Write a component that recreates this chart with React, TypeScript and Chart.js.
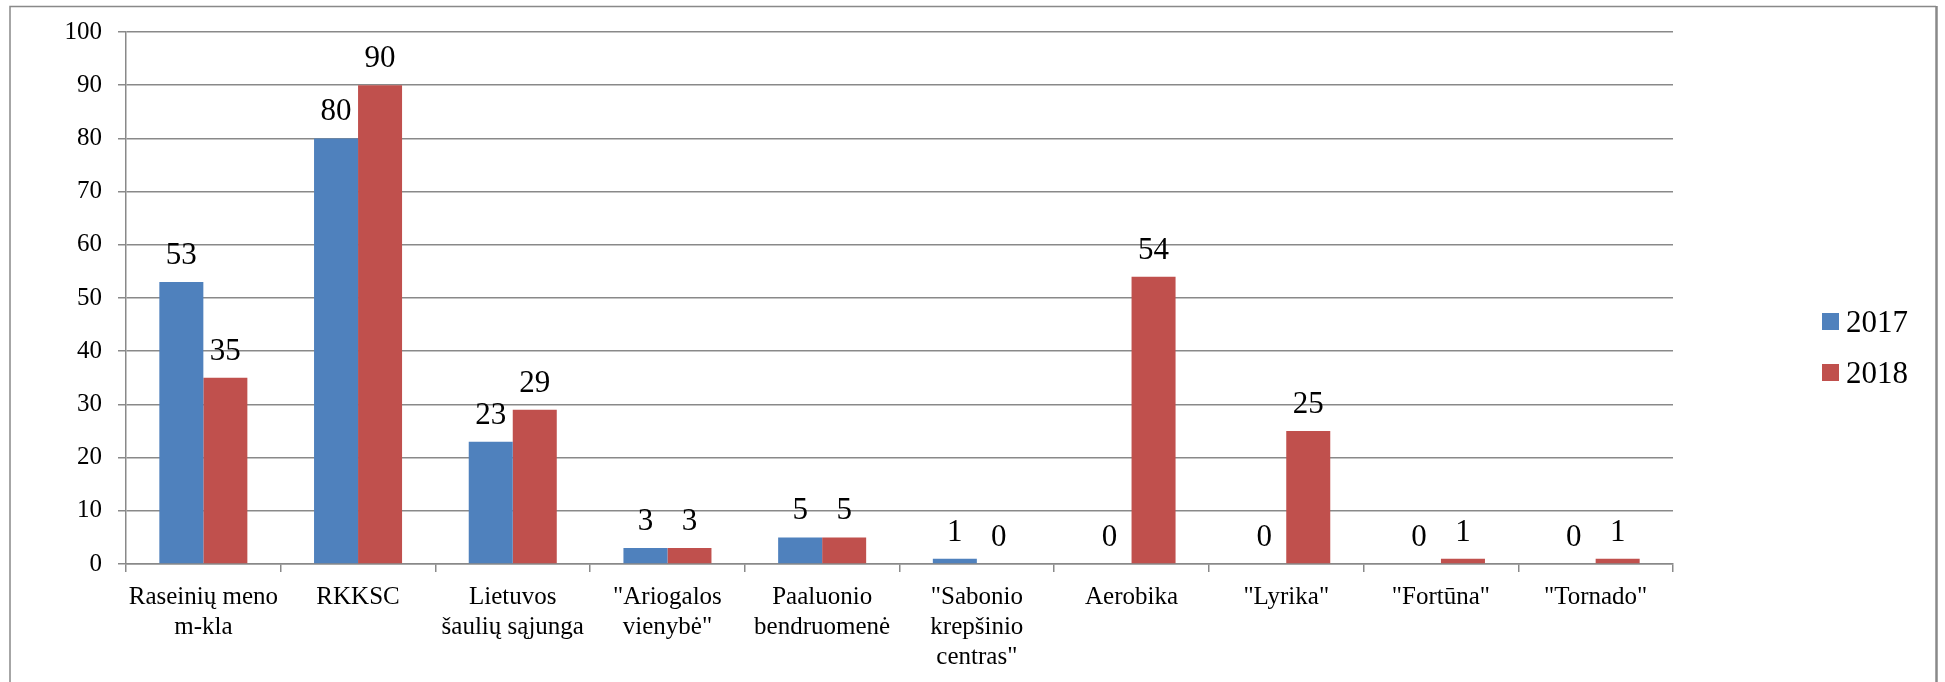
import React, { useEffect, useRef } from "react";
import { Chart, registerables } from "chart.js";

Chart.register(...registerables);

const categories: (string | string[])[] = [
  ["Raseinių meno", "m-kla"],
  "RKKSC",
  ["Lietuvos", "šaulių sąjunga"],
  ["\"Ariogalos", "vienybė\""],
  ["Paaluonio", "bendruomenė"],
  ["\"Sabonio", "krepšinio", "centras\""],
  "Aerobika",
  "\"Lyrika\"",
  "\"Fortūna\"",
  "\"Tornado\"",
];

const seriesLabels = ["2017", "2018"];
const values2017 = [53, 80, 23, 3, 5, 1, 0, 0, 0, 0];
const values2018 = [35, 90, 29, 3, 5, 0, 54, 25, 1, 1];
const seriesColors = ["#4F81BD", "#C0504D"];
const yTicks = { min: 0, max: 100, step: 10 };

const FONT = "'Liberation Serif', 'Times New Roman', serif";
const GRID = "#898989";

const W = 1945;
const H = 682;

const framePlugin = {
  id: "frame",
  beforeDraw(chart: any) {
    const ctx = chart.ctx;
    ctx.save();
    ctx.fillStyle = "#ffffff";
    ctx.fillRect(0, 0, W, H);
    ctx.strokeStyle = GRID;
    ctx.lineWidth = 1.5;
    ctx.beginPath();
    ctx.moveTo(10, H + 5);
    ctx.lineTo(10, 6.5);
    ctx.lineTo(1936, 6.5);
    ctx.stroke();
    ctx.lineWidth = 2.5;
    ctx.beginPath();
    ctx.moveTo(1936.5, 6);
    ctx.lineTo(1936.5, H + 5);
    ctx.stroke();
    ctx.restore();
  },
};

const valueLabelPlugin = {
  id: "valueLabels",
  afterDatasetsDraw(chart: any) {
    const ctx = chart.ctx;
    ctx.save();
    ctx.font = `31px ${FONT}`;
    ctx.fillStyle = "#000000";
    ctx.textAlign = "center";
    ctx.textBaseline = "alphabetic";
    chart.data.datasets.forEach((ds: any, di: number) => {
      const meta = chart.getDatasetMeta(di);
      meta.data.forEach((bar: any, i: number) => {
        const v = ds.data[i];
        ctx.fillText(String(v), bar.x, bar.y - 18);
      });
    });
    ctx.restore();
  },
};

const legendPlugin = {
  id: "sideLegend",
  afterDraw(chart: any) {
    const ctx = chart.ctx;
    ctx.save();
    ctx.font = `31px ${FONT}`;
    ctx.textAlign = "left";
    ctx.textBaseline = "alphabetic";
    chart.data.datasets.forEach((ds: any, i: number) => {
      const top = 313 + i * 51;
      ctx.fillStyle = ds.backgroundColor;
      ctx.fillRect(1822, top, 17, 17);
      ctx.fillStyle = "#000000";
      ctx.fillText(ds.label, 1846, top + 19);
    });
    ctx.restore();
  },
};

export default function App() {
  const ref = useRef<HTMLCanvasElement | null>(null);

  useEffect(() => {
    if (!ref.current) return;
    const chart = new Chart(ref.current, {
      type: "bar",
      data: {
        labels: categories,
        datasets: [
          {
            label: seriesLabels[0],
            data: values2017,
            backgroundColor: seriesColors[0],
            categoryPercentage: 0.569,
            barPercentage: 1,
          },
          {
            label: seriesLabels[1],
            data: values2018,
            backgroundColor: seriesColors[1],
            categoryPercentage: 0.569,
            barPercentage: 1,
          },
        ],
      },
      options: {
        responsive: false,
        animation: false,
        devicePixelRatio: 1,
        layout: { padding: { left: 0, right: 272, top: 32, bottom: 0 } },
        plugins: {
          legend: { display: false },
          tooltip: { enabled: false },
        },
        scales: {
          x: {
            offset: true,
            grid: {
              display: true,
              drawOnChartArea: false,
              drawTicks: true,
              tickLength: 8,
              color: GRID,
              lineWidth: 1.5,
              offset: true,
            },
            border: { display: true, color: GRID, width: 1.5 },
            ticks: {
              autoSkip: false,
              maxRotation: 0,
              minRotation: 0,
              padding: 10,
              color: "#000000",
              font: { family: FONT, size: 25, lineHeight: 1.2 },
            },
            afterFit(scale: any) {
              scale.height = 118;
            },
          },
          y: {
            min: yTicks.min,
            max: yTicks.max,
            ticks: {
              stepSize: yTicks.step,
              padding: 16,
              color: "#000000",
              font: { family: FONT, size: 25 },
            },
            grid: {
              color: GRID,
              lineWidth: 1.5,
              drawTicks: true,
              tickLength: 8,
            },
            border: { display: true, color: GRID, width: 1.5 },
            afterFit(scale: any) {
              scale.width = 126;
            },
          },
        },
      },
      plugins: [framePlugin, valueLabelPlugin, legendPlugin],
    } as any);
    return () => chart.destroy();
  }, []);

  return (
    <div style={{ position: "absolute", left: 0, top: 0, width: W, height: H, background: "#fff" }}>
      <canvas ref={ref} width={W} height={H} style={{ display: "block", width: W, height: H }} />
    </div>
  );
}
